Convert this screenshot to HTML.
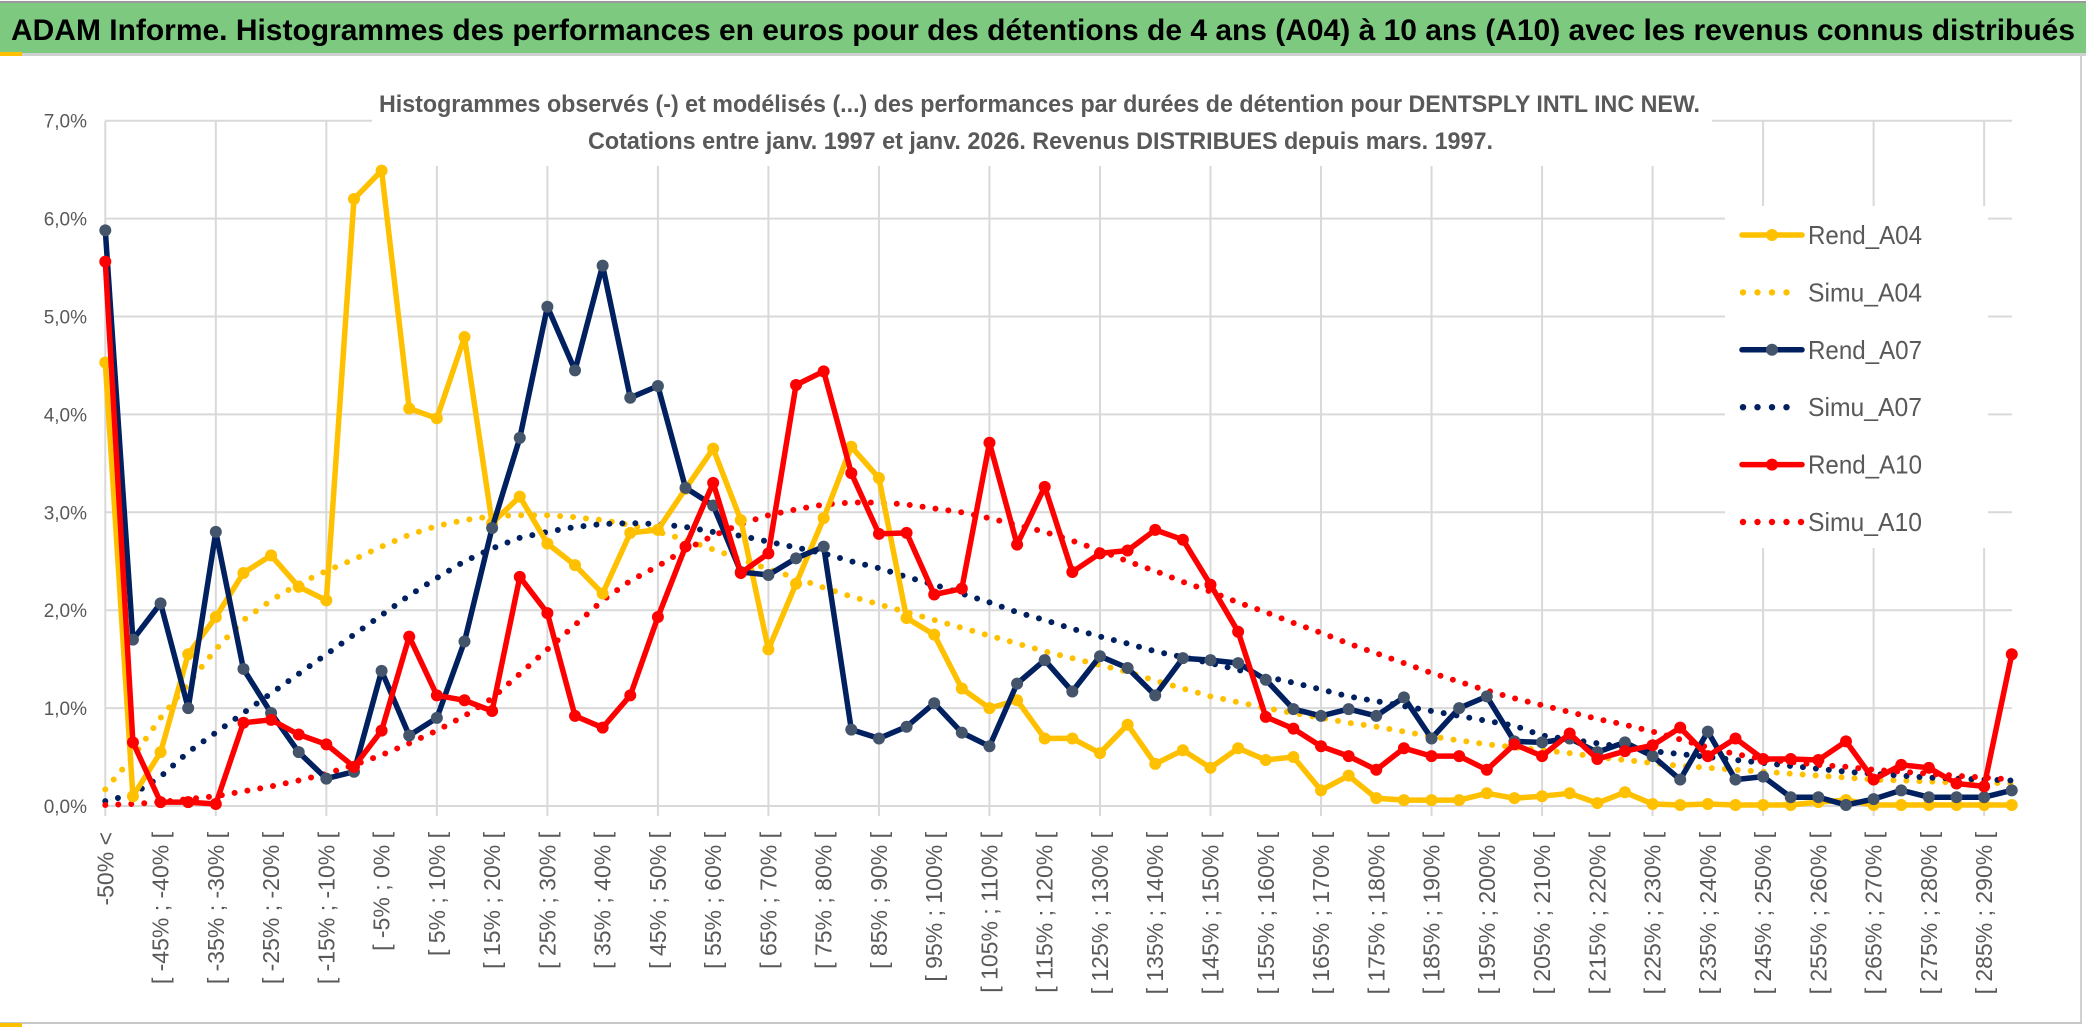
<!DOCTYPE html>
<html><head><meta charset="utf-8">
<style>
html,body{margin:0;padding:0;background:#fff;}
svg{display:block;}
text{font-family:"Liberation Sans",sans-serif;}
</style></head>
<body>
<svg id="chart" width="2086" height="1033" viewBox="0 0 2086 1033" xmlns="http://www.w3.org/2000/svg">
  <rect x="0" y="0" width="2086" height="1033" fill="#fff"/>
  <rect x="0" y="1" width="2086" height="2" fill="#9a9a9a"/>
  <rect x="0" y="3" width="2086" height="50" fill="#7CC97F"/>
  <rect x="0" y="53" width="2086" height="3" fill="#d0d0d0"/>
  <rect x="0" y="52" width="22" height="4" fill="#FFC000"/>
  <text x="11" y="40" font-size="30" font-weight="bold" fill="#000" textLength="2064" lengthAdjust="spacingAndGlyphs">ADAM Informe. Histogrammes des performances en euros pour des détentions de 4 ans (A04) à 10 ans (A10) avec les revenus connus distribués</text>
  <rect x="2080" y="56" width="2" height="968" fill="#d0d0d0"/>
  <rect x="0" y="1022" width="2082" height="2" fill="#c8c8c8"/>
  <rect x="0" y="1023" width="22" height="4" fill="#FFC000"/>
  <g id="grid"></g>
  <rect x="372" y="80" width="1340" height="86" fill="#fff"/>
  <text x="379" y="112" font-size="24" font-weight="bold" fill="#595959" textLength="1321" lengthAdjust="spacingAndGlyphs">Histogrammes observés (-) et modélisés (...) des performances par durées de détention pour DENTSPLY INTL INC NEW.</text>
  <text x="588" y="149" font-size="24" font-weight="bold" fill="#595959" textLength="905" lengthAdjust="spacingAndGlyphs">Cotations entre janv. 1997 et janv. 2026. Revenus DISTRIBUES depuis mars. 1997.</text>
  <g id="yticks"></g>
  <g id="xticks"></g>
  <g id="series"></g>
  <g id="legend"></g>
</svg>
<script>
const cats = [-50,-50,-45,-40,-35,-30,-25,-20,-15,-10,-5,0,5,10,15,20,25,30,35,40,45,50,55,60,65,70,75,80,85,90,95,100,105,110,115,120,125,130,135,140,145,150,155,160,165,170,175,180,185,190,195,200,205,210,215,220,225,230,235,240,245,250,255,260,265,270,275,280,285,290];
const yTicks = [0,1,2,3,4,5,6,7];
const yTickLabels = ["0,0%","1,0%","2,0%","3,0%","4,0%","5,0%","6,0%","7,0%"];
const rendA04 = [4.53,0.10,0.55,1.55,1.93,2.38,2.56,2.24,2.10,6.20,6.49,4.06,3.96,4.79,2.89,3.16,2.68,2.46,2.17,2.79,2.82,3.24,3.65,2.92,1.60,2.27,2.94,3.67,3.35,1.92,1.75,1.20,1.00,1.08,0.69,0.69,0.54,0.83,0.43,0.57,0.39,0.59,0.47,0.50,0.16,0.31,0.08,0.06,0.06,0.06,0.13,0.08,0.10,0.13,0.03,0.14,0.02,0.01,0.02,0.01,0.01,0.01,0.04,0.06,0.01,0.01,0.01,0.01,0.01,0.01];
const simuA04 = [0.17,0.5,0.9,1.25,1.6,1.9,2.1,2.27,2.4,2.52,2.65,2.77,2.86,2.92,2.96,2.97,2.97,2.95,2.92,2.87,2.8,2.72,2.62,2.52,2.42,2.33,2.23,2.14,2.06,1.98,1.9,1.82,1.74,1.66,1.58,1.51,1.44,1.37,1.28,1.2,1.12,1.06,1.0,0.95,0.9,0.85,0.81,0.76,0.71,0.67,0.63,0.6,0.57,0.54,0.5,0.47,0.44,0.41,0.39,0.37,0.35,0.33,0.31,0.29,0.27,0.26,0.25,0.24,0.24,0.23];
const rendA07 = [5.88,1.70,2.07,1.00,2.80,1.40,0.95,0.55,0.28,0.35,1.38,0.72,0.90,1.68,2.84,3.76,5.10,4.45,5.52,4.17,4.29,3.25,3.07,2.39,2.36,2.53,2.65,0.78,0.69,0.81,1.05,0.75,0.61,1.25,1.49,1.17,1.53,1.41,1.13,1.51,1.49,1.46,1.29,0.99,0.92,0.99,0.92,1.11,0.69,1.00,1.12,0.66,0.65,0.69,0.55,0.65,0.51,0.27,0.76,0.27,0.30,0.09,0.09,0.01,0.07,0.16,0.09,0.09,0.09,0.16];
const simuA07 = [0.05,0.12,0.3,0.55,0.75,0.95,1.15,1.35,1.55,1.75,1.95,2.15,2.33,2.5,2.63,2.74,2.8,2.85,2.88,2.89,2.88,2.85,2.8,2.76,2.7,2.64,2.58,2.5,2.43,2.34,2.26,2.17,2.08,1.98,1.9,1.81,1.73,1.66,1.58,1.52,1.46,1.39,1.32,1.26,1.19,1.12,1.07,1.02,0.97,0.92,0.87,0.82,0.72,0.68,0.64,0.6,0.56,0.53,0.5,0.47,0.44,0.41,0.38,0.35,0.33,0.31,0.29,0.28,0.27,0.26];
const rendA10 = [5.56,0.65,0.04,0.04,0.02,0.85,0.88,0.73,0.63,0.40,0.77,1.73,1.13,1.08,0.97,2.34,1.97,0.92,0.80,1.13,1.93,2.65,3.30,2.38,2.58,4.30,4.44,3.40,2.78,2.79,2.16,2.22,3.71,2.67,3.26,2.39,2.58,2.61,2.82,2.72,2.26,1.78,0.91,0.79,0.61,0.51,0.37,0.59,0.51,0.51,0.37,0.63,0.51,0.74,0.48,0.56,0.62,0.80,0.51,0.69,0.48,0.48,0.47,0.66,0.27,0.42,0.39,0.23,0.20,1.55];
const simuA10 = [0.01,0.02,0.04,0.07,0.1,0.15,0.2,0.26,0.33,0.42,0.52,0.64,0.77,0.92,1.1,1.35,1.6,1.85,2.1,2.3,2.45,2.62,2.76,2.88,2.97,3.03,3.08,3.1,3.1,3.08,3.04,3.0,2.94,2.87,2.8,2.71,2.61,2.5,2.4,2.29,2.19,2.08,1.98,1.87,1.77,1.66,1.56,1.46,1.36,1.27,1.18,1.1,1.03,0.96,0.89,0.83,0.76,0.68,0.6,0.53,0.48,0.45,0.42,0.4,0.37,0.35,0.33,0.31,0.29,0.27];

const NS = "http://www.w3.org/2000/svg";
const X0 = 105.3, DX = 27.63, Y0 = 806, DY = 97.9, XR = 2012;
function xAt(i){ return X0 + DX*i; }
function yAt(v){ return Y0 - DY*v; }
function mk(tag, attrs, parent){ const e=document.createElementNS(NS,tag); for(const k in attrs) e.setAttribute(k,attrs[k]); parent.appendChild(e); return e; }

const grid = document.getElementById('grid');
yTicks.forEach(function(t){
  const l = mk('line',{x1:X0,x2:XR,y1:yAt(t),y2:yAt(t),stroke:'#d9d9d9','stroke-width':2},grid);
  
  
});
for(let i=0;i<cats.length;i+=4){
  const l = mk('line',{x1:xAt(i),x2:xAt(i),y1:yAt(7),y2:Y0+10,stroke:'#d9d9d9','stroke-width':2},grid);
  
  
}
const yt = document.getElementById('yticks');
yTicks.forEach(function(t,k){
  const tx = mk('text',{x:87,y:yAt(t)+7,'font-size':19,fill:'#595959','text-anchor':'end'},yt);
  tx.textContent = yTickLabels[k];
  
  
});
const xt = document.getElementById('xticks');
for(let i=0;i<cats.length;i+=2){
  const lab = i===0 ? '-50% <' : '[ '+cats[i]+'% ; '+(cats[i]+5)+'% [';
  const x = xAt(i)+8, y = 832;
  const tx = mk('text',{x:x,y:y,'font-size':23,fill:'#595959','text-anchor':'end',transform:'rotate(-90 '+x+' '+y+')'},xt);
  tx.textContent = lab;
  
  
}

const series = document.getElementById('series');
function pts(arr){ return arr.map(function(v,i){return xAt(i).toFixed(1)+','+yAt(v).toFixed(1);}).join(' '); }
function dotted(arr,color,name){
  const p = mk('polyline',{points:pts(arr),fill:'none',stroke:color,'stroke-width':6,'stroke-linecap':'round','stroke-dasharray':'0 13'},series);
  
  
}
function solid(arr,color,mcolor,name){
  const p = mk('polyline',{points:pts(arr),fill:'none',stroke:color,'stroke-width':5.5,'stroke-linejoin':'round'},series);
  
  
  arr.forEach(function(v,i){
    const c = mk('circle',{cx:xAt(i),cy:yAt(v),r:6,fill:mcolor},series);
    
    
  });
}
dotted(simuA04,'#FFC000','simu-a04-line');
dotted(simuA07,'#002060','simu-a07-line');
dotted(simuA10,'#FF0000','simu-a10-line');
solid(rendA04,'#FFC000','#FFC000','rend-a04-line');
solid(rendA07,'#002060','#44546A','rend-a07-line');
solid(rendA10,'#FF0000','#FF0000','rend-a10-line');

const lg = document.getElementById('legend');
const bg = mk('rect',{x:1725,y:206,width:263,height:342,fill:'#fff'},lg);


const legNames = ['Rend_A04','Simu_A04','Rend_A07','Simu_A07','Rend_A10','Simu_A10'];
const legColors = ['#FFC000','#FFC000','#002060','#002060','#FF0000','#FF0000'];
const legMarker = ['#FFC000','','#44546A','','#FF0000',''];
legNames.forEach(function(n,k){
  const cy = 235 + 57.4*k;
  const g = mk('g',{},lg);
  
  
  if(k%2===0){
    mk('line',{x1:1742,x2:1802,y1:cy,y2:cy,stroke:legColors[k],'stroke-width':5.5,'stroke-linecap':'round'},g);
    mk('circle',{cx:1772,cy:cy,r:6,fill:legMarker[k]},g);
  } else {
    const nd = k===5 ? 5 : 4;
    for(let d=0;d<nd;d++) mk('circle',{cx:1743+d*14.5,cy:cy,r:3.2,fill:legColors[k]},g);
  }
  const t = mk('text',{x:1808,y:cy+9,'font-size':26,fill:'#595959',textLength:114,lengthAdjust:'spacingAndGlyphs'},g);
  t.textContent = n;
});
</script>
</body></html>
